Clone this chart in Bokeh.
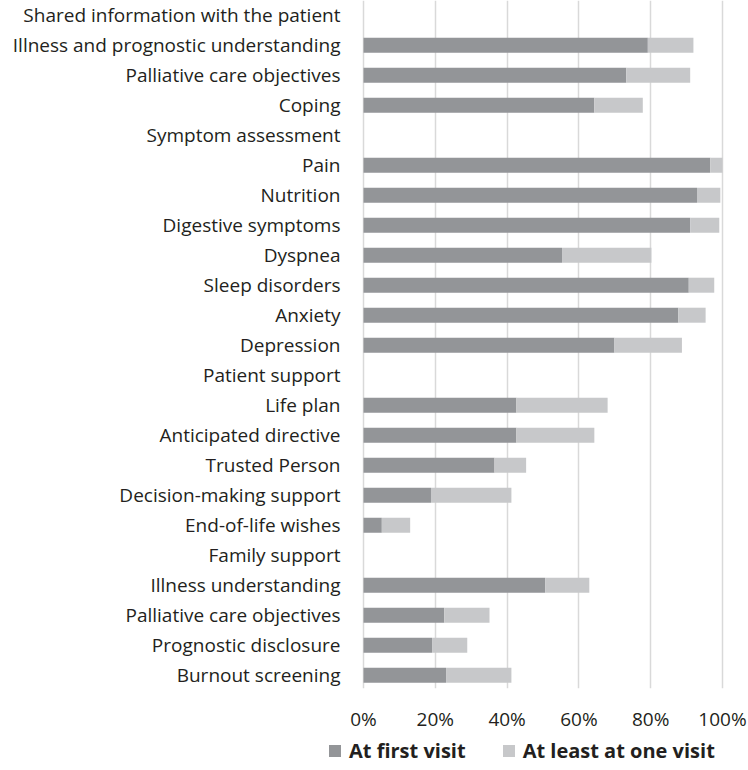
from bokeh.plotting import figure
from bokeh.layouts import column
from bokeh.models import Range1d, FixedTicker, Legend, LegendItem, ColumnDataSource
from bokeh.embed import file_html
from bokeh.resources import INLINE

categories = [
    "Shared information with the patient",
    "Illness and prognostic understanding",
    "Palliative care objectives",
    "Coping",
    "Symptom assessment",
    "Pain",
    "Nutrition",
    "Digestive symptoms",
    "Dyspnea",
    "Sleep disorders",
    "Anxiety",
    "Depression",
    "Patient support",
    "Life plan",
    "Anticipated directive",
    "Trusted Person",
    "Decision-making support",
    "End-of-life wishes",
    "Family support",
    "Illness understanding",
    "Palliative care objectives ",
    "Prognostic disclosure",
    "Burnout screening",
]
# percent of patients: at first visit, and at least at one visit (total)
first_visit = [0, 79.2, 73.2, 64.3, 0, 96.6, 92.9, 91.0, 55.3, 90.6, 87.7, 69.9,
               0, 42.6, 42.6, 36.5, 18.8, 5.1, 0, 50.6, 22.5, 19.1, 23.0]
at_least_one = [0, 91.9, 91.0, 77.8, 0, 100.0, 99.4, 99.1, 80.2, 97.7, 95.3, 88.7,
                0, 68.0, 64.3, 45.3, 41.2, 13.0, 0, 62.9, 35.1, 28.9, 41.2]
x_ticks = [0, 20, 40, 60, 80, 100]
x_tick_labels = ["0%", "20%", "40%", "60%", "80%", "100%"]
series_names = ["At first visit", "At least at one visit"]
colors = ["#939598", "#c7c8ca"]

n = len(categories)
ypos = [n - 1 - i for i in range(n)]
extra = [t - f for f, t in zip(first_visit, at_least_one)]
src = ColumnDataSource(dict(y=ypos, first=first_visit, extra=extra))

FONT = "Open Sans"
TXT = "#231f20"

# frame spans x = 327..748 px; 0% sits at 363 px and 100% at 722 px (3.59 px per %)
p = figure(frame_width=421, frame_height=688, output_backend="svg", toolbar_location=None,
           x_range=Range1d(-36 / 3.59, 100 + 26 / 3.59), y_range=Range1d(-0.443, n - 1 + 0.49),
           min_border_left=327, min_border_right=0, min_border_top=0, min_border_bottom=0)
p.outline_line_color = None
p.background_fill_color = "white"

rs = p.hbar_stack(["first", "extra"], y="y", height=0.5, color=colors, line_color=None, source=src)

p.xaxis.ticker = FixedTicker(ticks=x_ticks)
p.xaxis.major_label_overrides = {t: l for t, l in zip(x_ticks, x_tick_labels)}
p.xaxis.axis_line_color = None
p.xaxis.major_tick_line_color = None
p.xaxis.minor_tick_line_color = None
p.xaxis.major_tick_out = 0
p.xaxis.major_label_standoff = 17
p.xaxis.major_label_text_font = FONT
p.xaxis.major_label_text_font_size = "19px"
p.xaxis.major_label_text_color = TXT

p.yaxis.ticker = FixedTicker(ticks=ypos)
p.yaxis.major_label_overrides = {y: c.strip() for y, c in zip(ypos, categories)}
p.yaxis.axis_line_color = None
p.yaxis.major_tick_line_color = None
p.yaxis.minor_tick_line_color = None
p.yaxis.major_tick_out = 0
p.yaxis.major_label_standoff = -13
p.yaxis.major_label_text_font = FONT
p.yaxis.major_label_text_font_size = "19px"
p.yaxis.major_label_text_color = TXT

p.ygrid.grid_line_color = None
p.xgrid.grid_line_color = "#d9d9d9"
p.xgrid.grid_line_width = 1.5

# legend strip below the chart, same horizontal frame as the chart;
# its key renderers use the same data but the view range keeps them out of sight
p2 = figure(frame_width=421, frame_height=34, output_backend="svg", toolbar_location=None,
            x_range=Range1d(0, 1), y_range=Range1d(100, 101),
            min_border_left=327, min_border_right=0, min_border_top=0, min_border_bottom=0)
p2.axis.visible = False
p2.grid.visible = False
p2.outline_line_color = None
keys = p2.hbar_stack(["first", "extra"], y="y", height=0.5, color=colors, line_color=None, source=src)

legend = Legend(items=[LegendItem(label=series_names[i], renderers=[keys[i]]) for i in range(2)],
                orientation="horizontal", location=(0, 4),
                label_text_font=FONT, label_text_font_style="bold", label_text_font_size="20px",
                label_text_color=TXT, glyph_width=15, glyph_height=15, label_standoff=7,
                spacing=35, padding=0, margin=0, border_line_color=None,
                background_fill_alpha=0)
p2.add_layout(legend, "center")

layout = column(p, p2, spacing=0)
open("out.html", "w").write(file_html(layout, INLINE))
